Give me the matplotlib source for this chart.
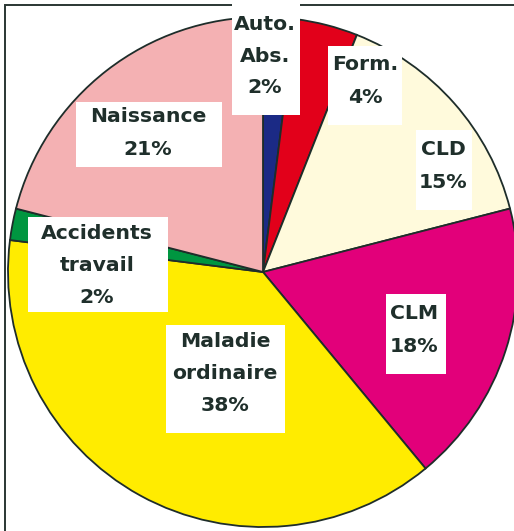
import matplotlib.pyplot as plt
from matplotlib.patches import Rectangle

# données (pourcentages, dans le sens horaire depuis midi)
labels = ["Auto.\nAbs.", "Form.", "CLD", "CLM", "Maladie\nordinaire", "Accidents\ntravail", "Naissance"]
values = [2, 4, 15, 18, 38, 2, 21]
colors = ["#1b2a85", "#e2001a", "#fffadc", "#e2007a", "#ffec00", "#009640", "#f4b1b3"]

W, H = 514, 531
TXT = "#1f2f2b"

# mise en page en pixels (x centre, baselines, boîte x0, y0, x1, y1)
layout = [
    (265, [30, 62, 93], (232, 2, 300, 115)),
    (365, [70, 103], (328, 46, 402, 125)),
    (443, [155, 188], (416, 130, 472, 210)),
    (414, [319, 352], (386, 294, 446, 374)),
    (225, [347, 379, 411], (166, 325, 285, 433)),
    (97, [239, 271, 303], (28, 217, 168, 312)),
    (148, [122, 155], (76, 102, 222, 167)),
]

fig = plt.figure(figsize=(W / 100, H / 100), dpi=100)
ax = fig.add_axes([0, 0, 1, 1])

ax.pie(
    values,
    colors=colors,
    startangle=90,
    counterclock=False,
    center=(263, H - 272),
    radius=255,
    wedgeprops=dict(edgecolor="#1e2d2a", linewidth=1.3),
)

# cadre (bord gauche et haut visibles)
ax.add_patch(Rectangle((5, -50), W + 50, H - 5 + 50, fill=False,
                       edgecolor="#2a3633", linewidth=1.4, zorder=3))

for lab, val, (cx, bases, box) in zip(labels, values, layout):
    x0, y0, x1, y1 = box
    ax.add_patch(Rectangle((x0, H - y1), x1 - x0, y1 - y0, facecolor="white",
                           edgecolor="none", zorder=4))
    lines = lab.split("\n") + [f"{val}%"]
    for line, b in zip(lines, bases):
        ax.text(cx, H - b, line, ha="center", va="baseline", fontsize=14.7,
                fontweight="bold", family="DejaVu Sans", color=TXT, zorder=5)

ax.set_xlim(0, W)
ax.set_ylim(0, H)
ax.set_aspect("equal")
ax.axis("off")

fig.savefig("out.png", dpi=100)
